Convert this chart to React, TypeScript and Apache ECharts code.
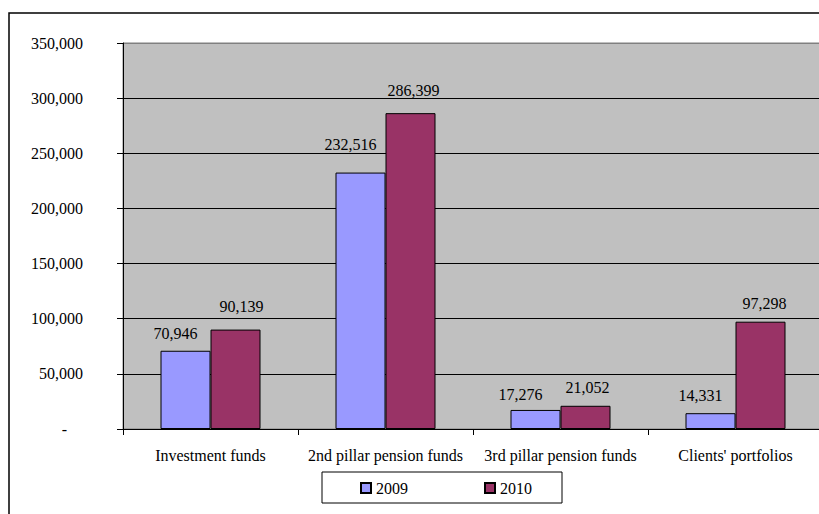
import React, { useEffect, useRef } from "react";
import * as echarts from "echarts";

const categories = [
  "Investment funds",
  "2nd pillar pension funds",
  "3rd pillar pension funds",
  "Clients' portfolios",
];
const seriesNames = ["2009", "2010"];
const values2009 = [70946, 232516, 17276, 14331];
const values2010 = [90139, 286399, 21052, 97298];
const yTicks = { min: 0, max: 350000, interval: 50000 };

// label placement tweaks (pixels), kept apart from the data
const labelDx2009 = [-10, -10, -15, -10];
const labelDist2009 = [9, 20, 7, 10];
const labelDx2010 = [6, 3, 2, 4];
const labelDist2010 = [15, 15, 10, 10];

const FONT = "Liberation Serif";

const fmt = (v: number) => v.toLocaleString("en-US");

export default function App() {
  const ref = useRef<HTMLDivElement>(null);
  useEffect(() => {
    if (!ref.current) return;
    const chart = echarts.init(ref.current, undefined, { renderer: "svg" });
    const mk = (vals: number[], dx: number[], dist: number[]) =>
      vals.map((v, i) => ({
        value: v,
        label: { distance: dist[i], offset: [dx[i], 0] },
      }));
    chart.setOption({
      animation: false,
      backgroundColor: "#ffffff",
      textStyle: { fontFamily: FONT },
      graphic: [
        {
          type: "rect",
          shape: { x: 9, y: 13, width: 900, height: 600 },
          style: { fill: "none", stroke: "#000", lineWidth: 1.5 },
          z: 100,
        },
      ],
      grid: {
        left: 123,
        top: 43,
        width: 700,
        height: 386,
        show: true,
        backgroundColor: "#c0c0c0",
        borderColor: "#808080",
        borderWidth: 1,
      },
      legend: {
        data: seriesNames,
        left: 322,
        top: 472,
        orient: "horizontal",
        itemWidth: 10,
        itemHeight: 10,
        itemGap: 76,
        padding: [8, 30, 7, 38],
        borderColor: "#000",
        borderWidth: 1,
        icon: "rect",
        textStyle: { fontFamily: FONT, fontSize: 16, color: "#000" },
      },
      xAxis: {
        type: "category",
        data: categories,
        axisLine: { show: true, lineStyle: { color: "#000", width: 1 } },
        axisTick: { show: true, length: 6, lineStyle: { color: "#000" } },
        axisLabel: { fontFamily: FONT, fontSize: 16, color: "#000", margin: 18, interval: 0 },
        splitLine: { show: false },
      },
      yAxis: {
        type: "value",
        min: yTicks.min,
        max: yTicks.max,
        interval: yTicks.interval,
        axisLine: { show: true, lineStyle: { color: "#000", width: 1 } },
        axisTick: { show: true, length: 6, lineStyle: { color: "#000" } },
        axisLabel: {
          fontFamily: FONT,
          fontSize: 16,
          color: "#000",
          margin: 40,
          formatter: (v: number) => (v === 0 ? "{d|-}" : fmt(v)),
          rich: { d: { fontFamily: FONT, fontSize: 16, color: "#000", padding: [0, 16, 0, 0] } },
        },
        splitLine: {
          show: true,
          lineStyle: {
            color: ["#000", "#000", "#000", "#000", "#000", "#000", "#000", "#808080"],
            width: 1,
          },
        },
      },
      series: [
        {
          name: seriesNames[0],
          type: "bar",
          data: mk(values2009, labelDx2009, labelDist2009),
          barWidth: 50,
          barGap: "0%",
          itemStyle: { color: "#9999ff", borderColor: "#000", borderWidth: 1 },
          label: {
            show: true,
            position: "top",
            fontFamily: FONT,
            fontSize: 16,
            color: "#000",
            formatter: (p: any) => fmt(p.value),
          },
        },
        {
          name: seriesNames[1],
          type: "bar",
          data: mk(values2010, labelDx2010, labelDist2010),
          barWidth: 50,
          barGap: "0%",
          itemStyle: { color: "#993366", borderColor: "#000", borderWidth: 1 },
          label: {
            show: true,
            position: "top",
            fontFamily: FONT,
            fontSize: 16,
            color: "#000",
            formatter: (p: any) => fmt(p.value),
          },
        },
      ],
    });
    return () => chart.dispose();
  }, []);
  return (
    <div
      style={{
        position: "fixed",
        left: 0,
        top: 0,
        width: 819,
        height: 514,
        overflow: "hidden",
        background: "#fff",
      }}
    >
      <div ref={ref} style={{ width: 860, height: 540 }} />
    </div>
  );
}
